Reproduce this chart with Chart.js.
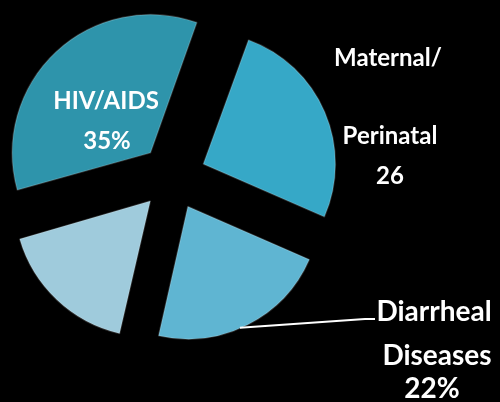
<!DOCTYPE html>
<html>
<head>
<meta charset="utf-8">
<script src="https://cdn.jsdelivr.net/npm/chart.js@4/dist/chart.umd.min.js"></script>
<style>
  html, body { margin: 0; padding: 0; background: #000; }
  #pie-wrap { width: 500px; height: 402px; position: relative; }
</style>
</head>
<body>
<div id="pie-wrap"><canvas id="pie-chart"></canvas></div>
<script>
const categories = ['HIV/AIDS', 'Maternal/Perinatal', 'Diarrheal Diseases', 'Other'];
const shares = [35, 26, 22, 17];
const sliceColors = ['#2e94ab', '#36a8c7', '#5fb5d2', '#9fcbdc'];

// label text as shown on the slide
const labelLines = [
    ['HIV/AIDS', '35%'],
    ['Maternal/', 'Perinatal', '26'],
    ['Diarrheal', 'Diseases', '22%'],
    []
];

const FONT = 'Lato, "Open Sans", sans-serif';

const sliceLabels = {
    id: 'sliceLabels',
    afterDatasetsDraw(chart) {
        const ctx = chart.ctx;
        const arcs = chart.getDatasetMeta(0).data;
        ctx.save();
        ctx.fillStyle = '#fff';
        ctx.textAlign = 'center';
        ctx.textBaseline = 'middle';

        // HIV/AIDS inside its slice
        ctx.font = 'bold 24px ' + FONT;
        ctx.fillText(labelLines[0][0], 106, 101);
        ctx.fillText(labelLines[0][1], 107, 141);

        // Maternal/Perinatal to the right
        ctx.fillText(labelLines[1][0], 388, 58);
        ctx.fillText(labelLines[1][1], 390, 136);
        ctx.fillText(labelLines[1][2], 390, 176);

        // Diarrheal with leader line
        ctx.font = 'bold 28px ' + FONT;
        ctx.fillText(labelLines[2][0], 434, 312);
        ctx.fillText(labelLines[2][1], 437, 356);
        ctx.fillText(labelLines[2][2], 432, 389);

        const a = arcs[2];
        const mid = (a.startAngle + a.endAngle) / 2;
        const off = (a.options.offset || 0) / 4;
        const px = a.x + Math.cos(mid + 0.05) * (off + a.outerRadius);
        const py = a.y + Math.sin(mid + 0.05) * (off + a.outerRadius);
        ctx.strokeStyle = '#fff';
        ctx.lineWidth = 2;
        ctx.beginPath();
        ctx.moveTo(px, py);
        ctx.lineTo(365, 319);
        ctx.lineTo(375, 319);
        ctx.stroke();
        ctx.restore();
    }
};

const ctx = document.getElementById('pie-chart').getContext('2d');

const myChart = new Chart(ctx, {
    type: 'pie',
    data: {
        labels: categories,
        datasets: [{
            data: shares,
            backgroundColor: sliceColors,
            borderColor: 'rgba(255,255,255,0.18)',
            borderWidth: 1.5,
            offset: 132
        }]
    },
    options: {
        responsive: true,
        maintainAspectRatio: false,
        animation: false,
        rotation: -106,
        radius: 132,
        layout: {
            padding: { left: 0, right: 154, top: 0, bottom: 48 }
        },
        plugins: {
            legend: { display: false },
            tooltip: { enabled: false }
        }
    },
    plugins: [sliceLabels]
});
</script>
</body>
</html>
